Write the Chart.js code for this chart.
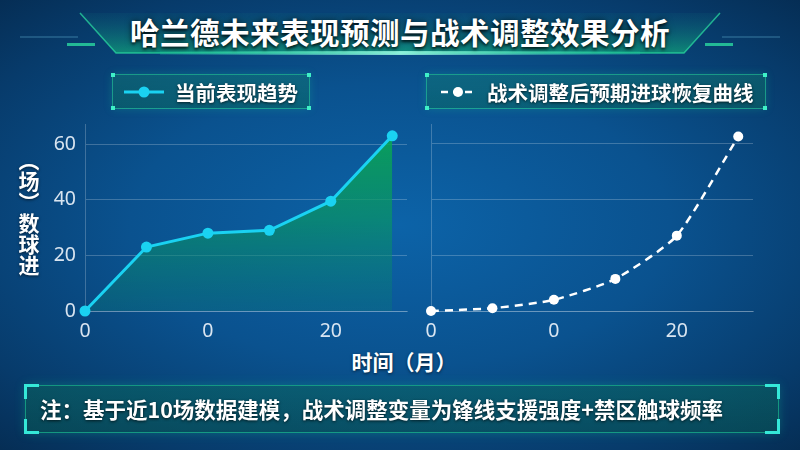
<!DOCTYPE html>
<html>
<head>
<meta charset="utf-8">
<script src="https://cdn.jsdelivr.net/npm/chart.js@4.4.1/dist/chart.umd.min.js"></script>
<style>
  html, body { margin: 0; padding: 0; }
  body {
    width: 800px; height: 450px; overflow: hidden; position: relative;
    font-family: "Noto Sans CJK SC", "Noto Sans", sans-serif;
    background: radial-gradient(ellipse 75% 70% at 50% 50%, #0c63a8 0%, #0a528f 45%, #073b6b 80%, #052c52 100%);
    color: #fff;
  }
  .abs { position: absolute; }
  #title {
    left: 0; width: 800px; top: 10px; text-align: center;
    font-size: 29.5px; font-weight: 700; letter-spacing: 0.5px;
    text-shadow: 0 0 6px rgba(0,0,0,0.6), 0 2px 3px rgba(0,0,0,0.7);
  }
  .legendBox {
    top: 74px; height: 35px; box-sizing: border-box;
    border: 1px solid rgba(40,210,160,0.55);
    background: linear-gradient(180deg, rgba(20,140,110,0.35), rgba(10,110,90,0.45));
    box-shadow: 0 0 8px rgba(20,200,150,0.25);
  }
  .corner { position: absolute; width: 4px; height: 4px; background: #3ff0c8; }
  .legendText {
    position: absolute; top: 2px; font-size: 20.5px; font-weight: 700;
    text-shadow: 0 1px 3px rgba(0,0,0,0.7);
  }
  #ytitle {
    left: 10px; top: 150px; width: 34px; height: 150px;
    writing-mode: vertical-rl; font-size: 21px; font-weight: 700;
    text-shadow: 0 1px 3px rgba(0,0,0,0.6);
  }
  #xtitle {
    left: 4px; width: 800px; top: 346px; text-align: center;
    font-size: 21px; font-weight: 700;
    text-shadow: 0 1px 3px rgba(0,0,0,0.6);
  }
  #note {
    left: 25px; top: 385px; width: 754px; height: 48px; box-sizing: border-box;
    border: 1.5px solid rgba(30,200,150,0.6);
    background: linear-gradient(180deg, rgba(10,110,90,0.45), rgba(8,90,80,0.5));
    box-shadow: 0 0 10px rgba(20,200,150,0.3);
  }
  #noteText {
    position: absolute; left: 14px; top: 7px; font-size: 21.5px; font-weight: 700;
    text-shadow: 0 1px 3px rgba(0,0,0,0.7);
  }
  .bracket { position: absolute; width: 12px; height: 12px; border-color: #35e8d8; border-style: solid; border-width: 0; }
</style>
</head>
<body>
<svg class="abs" style="left:0;top:0" width="800" height="70">
  <defs>
    <linearGradient id="bannerFill" x1="0" y1="0" x2="0" y2="1">
      <stop offset="0" stop-color="#0d6a7a" stop-opacity="0.15"/>
      <stop offset="1" stop-color="#12b078" stop-opacity="0.65"/>
    </linearGradient>
    <linearGradient id="glowLine" x1="0" y1="0" x2="1" y2="0">
      <stop offset="0" stop-color="#20d0a0" stop-opacity="0.2"/>
      <stop offset="0.5" stop-color="#a0ffe8" stop-opacity="1"/>
      <stop offset="1" stop-color="#20d0a0" stop-opacity="0.2"/>
    </linearGradient>
  </defs>
  <polygon points="80,13 720,13 684,53 116,53" fill="url(#bannerFill)"/>
  <polyline points="80,13 116,53 684,53 720,13" fill="none" stroke="#2ad8a0" stroke-opacity="0.75" stroke-width="1.5"/>
  <rect x="160" y="51" width="480" height="4" fill="url(#glowLine)" opacity="0.85"/>
  <line x1="20" y1="37" x2="78" y2="37" stroke="#5aa8c8" stroke-opacity="0.6" stroke-width="1"/>
  <rect x="67" y="43" width="28" height="3" fill="#2ad8a0" opacity="0.8"/>
  <line x1="722" y1="37" x2="780" y2="37" stroke="#5aa8c8" stroke-opacity="0.6" stroke-width="1"/>
  <rect x="705" y="43" width="28" height="3" fill="#2ad8a0" opacity="0.8"/>
</svg>
<div id="title" class="abs">哈兰德未来表现预测与战术调整效果分析</div>

<div class="abs" style="left:0;top:104px;width:415px;height:241px;"><canvas id="chartLeft"></canvas></div>
<div class="abs" style="left:415px;top:110px;width:385px;height:235px;"><canvas id="chartRight"></canvas></div>

<div class="legendBox abs" style="left:112px;width:198px;">
  <div class="corner" style="left:-2px;top:-2px"></div><div class="corner" style="right:-2px;top:-2px"></div>
  <div class="corner" style="left:-2px;bottom:-2px"></div><div class="corner" style="right:-2px;bottom:-2px"></div>
  <svg style="position:absolute;left:10px;top:9px" width="42" height="16">
    <line x1="1" y1="8" x2="41" y2="8" stroke="#1ad2f2" stroke-width="3"/>
    <circle cx="21" cy="8" r="5.5" fill="#1ad2f2"/>
  </svg>
  <div class="legendText" style="left:62px">当前表现趋势</div>
</div>
<div class="legendBox abs" style="left:426px;width:340px;">
  <div class="corner" style="left:-2px;top:-2px"></div><div class="corner" style="right:-2px;top:-2px"></div>
  <div class="corner" style="left:-2px;bottom:-2px"></div><div class="corner" style="right:-2px;bottom:-2px"></div>
  <svg style="position:absolute;left:13px;top:9px" width="38" height="16">
    <line x1="1" y1="8" x2="37" y2="8" stroke="#ffffff" stroke-width="2.5" stroke-dasharray="7,5"/>
    <circle cx="18" cy="8" r="5" fill="#ffffff"/>
  </svg>
  <div class="legendText" style="left:60px">战术调整后预期进球恢复曲线</div>
</div>

<div id="ytitle" class="abs">（场）数球进</div>
<div id="xtitle" class="abs">时间（月）</div>

<div id="note" class="abs">
  <div class="bracket" style="left:-2px;top:-2px;border-left-width:3px;border-top-width:3px"></div>
  <div class="bracket" style="right:-2px;top:-2px;border-right-width:3px;border-top-width:3px"></div>
  <div class="bracket" style="left:-2px;bottom:-2px;border-left-width:3px;border-bottom-width:3px"></div>
  <div class="bracket" style="right:-2px;bottom:-2px;border-right-width:3px;border-bottom-width:3px"></div>
  <div id="noteText">注：基于近10场数据建模，战术调整变量为锋线支援强度+禁区触球频率</div>
</div>

<script>
// 数据
const months = [0, 5, 10, 15, 20, 25];
const currentGoals = [0, 23, 28, 29, 39.5, 63];
const adjustedGoals = [0, 1, 4, 11.5, 27, 62.5];
const xTickLabels = ["0", "0", "20"];
const yTickStep = 20;

const tickFont = { family: "'Noto Sans', 'Open Sans', sans-serif", size: 19.5 };
const tickColor = "rgba(235,242,250,0.92)";
const gridColor = "rgba(255,255,255,0.22)";

function points(values) {
  return months.map((m, i) => ({ x: m, y: values[i] }));
}

function greenFill(context) {
  const area = context.chart.chartArea;
  if (!area) return "rgba(0,180,110,0.5)";
  const g = context.chart.ctx.createLinearGradient(0, area.top, 0, area.bottom);
  g.addColorStop(0, "rgba(10,170,80,0.9)");
  g.addColorStop(0.5, "rgba(10,150,100,0.7)");
  g.addColorStop(1, "rgba(10,120,120,0.35)");
  return g;
}

function makeScales(showY, yWidth) {
  return {
    x: {
      type: "linear",
      min: 0,
      max: 26.2,
      grid: { display: false },
      border: { display: true, color: gridColor, width: 1 },
      ticks: {
        stepSize: 10,
        includeBounds: false,
        color: tickColor,
        font: tickFont,
        padding: 1,
        maxRotation: 0,
        callback: (v, i) => xTickLabels[i],
      },
      afterFit: (s) => { s.height = 34; },
    },
    y: {
      min: 0,
      max: 67,
      grid: { color: gridColor, drawTicks: false },
      border: { display: true, color: gridColor, width: 1 },
      ticks: {
        display: showY,
        stepSize: yTickStep,
        includeBounds: false,
        color: tickColor,
        font: tickFont,
        padding: 9,
      },
      afterFit: (s) => { s.width = yWidth; },
    },
  };
}

new Chart(document.getElementById("chartLeft"), {
  type: "line",
  data: {
    datasets: [{
      label: "当前表现趋势",
      data: points(currentGoals),
      borderColor: "#1ad2f2",
      backgroundColor: greenFill,
      fill: "origin",
      borderWidth: 3,
      pointRadius: 5.5,
      pointBackgroundColor: "#1ad2f2",
      pointBorderWidth: 0,
      tension: 0,
      clip: false,
    }],
  },
  options: {
    responsive: true,
    maintainAspectRatio: false,
    animation: false,
    layout: { padding: { top: 9, right: 8, left: 0, bottom: 0 } },
    plugins: { legend: { display: false }, tooltip: { enabled: false } },
    scales: makeScales(true, 85),
  },
});

new Chart(document.getElementById("chartRight"), {
  type: "line",
  data: {
    datasets: [{
      label: "战术调整后预期进球恢复曲线",
      data: points(adjustedGoals),
      borderColor: "#ffffff",
      borderWidth: 2.5,
      borderDash: [8, 6],
      fill: false,
      pointRadius: 5,
      pointBackgroundColor: "#ffffff",
      pointBorderWidth: 0,
      tension: 0.2,
      clip: false,
    }],
  },
  options: {
    responsive: true,
    maintainAspectRatio: false,
    animation: false,
    layout: { padding: { top: 14, right: 47, left: 0, bottom: 0 } },
    plugins: { legend: { display: false }, tooltip: { enabled: false } },
    scales: makeScales(false, 16),
  },
});
</script>
</body>
</html>
